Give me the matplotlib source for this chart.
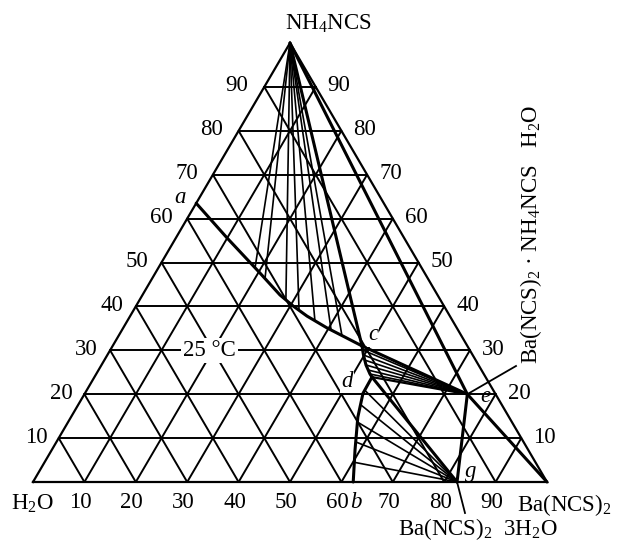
import numpy as np
import matplotlib
matplotlib.use("Agg")
import matplotlib.pyplot as plt

# ---------------- data (fractions: B = Ba(NCS)2, N = NH4NCS) ----------------
ticks = [10, 20, 30, 40, 50, 60, 70, 80, 90]

# solubility curve a-c (NH4NCS branch)
curve_ac_B = [0.000, 0.0995, 0.2036, 0.2675, 0.3055, 0.344, 0.3965, 0.442, 0.485]
curve_ac_N = [0.635, 0.556, 0.476, 0.426, 0.401, 0.378, 0.351, 0.330, 0.310]
# curve c-d (double salt branch)
curve_cd_B = [0.485, 0.4983, 0.5146, 0.5326, 0.540]
curve_cd_N = [0.310, 0.2893, 0.2665, 0.246, 0.239]
# curve d-b (trihydrate branch)
curve_db_B = [0.540, 0.541, 0.558, 0.590, 0.623]
curve_db_N = [0.239, 0.202, 0.148, 0.073, 0.000]

# special points
pt_top = (0.0, 1.0)        # NH4NCS
pt_ba = (1.0, 0.0)         # Ba(NCS)2
pt_c = (0.485, 0.310)
pt_d = (0.540, 0.239)
pt_e = (0.745, 0.200)      # Ba(NCS)2.NH4NCS.H2O
pt_g = (0.825, 0.000)      # Ba(NCS)2.3H2O

# tie-line liquid ends
tie_top_B = [0.188, 0.2196, 0.285, 0.321, 0.365, 0.407, 0.434]
tie_top_N = [0.488, 0.4636, 0.414, 0.393, 0.367, 0.346, 0.334]
tie_e_B = [0.4909, 0.4983, 0.506, 0.5146, 0.5243, 0.5326]
tie_e_N = [0.3007, 0.2893, 0.2779, 0.2665, 0.2551, 0.246]
tie_g_B = [0.541, 0.551, 0.564, 0.583, 0.602]
tie_g_N = [0.209, 0.175, 0.136, 0.091, 0.045]

# ---------------- helpers ----------------
H = np.sqrt(3) / 2


def tern(B, N):
    B = np.asarray(B, float)
    N = np.asarray(N, float)
    return B + N / 2, N * H


plt.rcParams["font.family"] = ["Liberation Serif", "DejaVu Serif"]
plt.rcParams["mathtext.fontset"] = "custom"
plt.rcParams["mathtext.rm"] = "Liberation Serif"
plt.rcParams["mathtext.it"] = "Liberation Serif:italic"

W, Hpx = 624, 543
fig = plt.figure(figsize=(W / 100, Hpx / 100), dpi=100)
ax = fig.add_axes([0, 0, 1, 1])
x0, base, wpx, hpx = 33, 482, 514, 439
ax.set_xlim(-x0 / wpx, (W - x0) / wpx)
ax.set_ylim(-(Hpx - base) / hpx * H, base / hpx * H)
ax.axis("off")

LW_GRID = 1.4
LW_THICK = 2.2
LW_TIE = 1.2
FS = 16.5
K = "black"


def seg(p, q, lw, z=2):
    x, y = tern([p[0], q[0]], [p[1], q[1]])
    ax.plot(x, y, color=K, lw=lw, solid_capstyle="round", zorder=z)


# triangle frame
fx, fy = tern([0, 1, 0, 0], [0, 0, 1, 0])
ax.plot(fx, fy, color=K, lw=LW_GRID + 0.2, zorder=2, solid_joinstyle="miter")

# grid
for t in ticks:
    f = t / 100
    seg((0, f), (1 - f, f), LW_GRID, 1)          # constant NH4NCS
    seg((f, 0), (f, 1 - f), LW_GRID, 1)          # constant Ba(NCS)2
    seg((1 - f, 0), (0, 1 - f), LW_GRID, 1)      # constant H2O

# tie lines
for b, n in zip(tie_top_B, tie_top_N):
    seg(pt_top, (b, n), LW_TIE)
for b, n in zip(tie_e_B, tie_e_N):
    seg(pt_e, (b, n), LW_TIE)
for b, n in zip(tie_g_B, tie_g_N):
    seg(pt_g, (b, n), LW_TIE)

# solubility curves
for cb, cn in [(curve_ac_B, curve_ac_N), (curve_cd_B, curve_cd_N), (curve_db_B, curve_db_N)]:
    x, y = tern(cb, cn)
    ax.plot(x, y, color=K, lw=LW_THICK, zorder=3, solid_capstyle="round",
            solid_joinstyle="round")

# three-phase triangles / compound joins
seg(pt_top, pt_c, LW_THICK, 3)
seg(pt_top, pt_e, LW_THICK, 3)
seg(pt_c, pt_e, LW_THICK, 3)
seg(pt_d, pt_e, LW_TIE + 0.4, 3)
seg(pt_d, pt_g, LW_THICK, 3)
seg(pt_e, pt_g, LW_THICK, 3)
seg(pt_e, pt_ba, LW_THICK, 3)

# ---------------- tick labels ----------------
pt2px = 0.72  # points per pixel at 100 dpi
for t in ticks:
    f = t / 100
    x, y = tern(0, f)
    gap = 10 + 7 * f
    ax.annotate(str(t), (x, y), xytext=(-gap * pt2px, 1 * pt2px), textcoords="offset points",
                ha="right", va="center", fontsize=FS)
    x, y = tern(1 - f, f)
    ax.annotate(str(t), (x, y), xytext=(12 * pt2px, 1 * pt2px), textcoords="offset points",
                ha="left", va="center", fontsize=FS)
    x, y = tern(f, 0)
    ax.annotate(str(t), (x, y), xytext=(-4 * pt2px, -21 * pt2px), textcoords="offset points",
                ha="center", va="center", fontsize=FS)


# point labels
def plabel(p, txt, dx, dy, box=False):
    x, y = tern(*p)
    kw = dict(xytext=(dx * pt2px, dy * pt2px), textcoords="offset points",
              ha="center", va="center", fontsize=FS, style="italic", zorder=5)
    if box:
        kw["bbox"] = dict(boxstyle="square,pad=0.05", fc="white", ec="none")
    ax.annotate(txt, (x, y), **kw)


plabel((curve_ac_B[0], curve_ac_N[0]), "a", -16, 6)
plabel((curve_db_B[-1], curve_db_N[-1]), "b", 3, -21)
plabel(pt_c, "c", 11, 11, box=True)
plabel(pt_d, "d", -25, -4, box=True)
plabel(pt_e, "e", 18, -2)
plabel(pt_g, "g", 14, 10)

# temperature label
ax.text(*tern(0.194, 0.30), "25 °C", ha="center", va="center", fontsize=FS, zorder=5,
        bbox=dict(boxstyle="square,pad=0.1", fc="white", ec="none"))


# vertex labels
def px(xp, yp):
    return (xp - x0) / wpx, (base - yp) / hpx * H


ax.text(*px(285, 24), "NH$_4$NCS", ha="left", va="center", fontsize=FS)
ax.text(*px(32, 504), "H$_2$O", ha="center", va="center", fontsize=FS)
ax.text(*px(517, 505), "Ba(NCS)$_2$", ha="left", va="center", fontsize=FS)
ax.text(*px(478, 529), "Ba(NCS)$_2$  3H$_2$O", ha="center", va="center", fontsize=FS)
ax.text(*px(531, 234), "Ba(NCS)$_2$ · NH$_4$NCS   H$_2$O", ha="center", va="center",
        rotation=90, fontsize=16.5)

# pointer lines
ex, ey = tern(*pt_e)
lx, ly = px(516, 366)
ax.plot([ex, lx], [ey, ly], color=K, lw=1.3, zorder=4)
gx, gy = tern(*pt_g)
hx, hy = px(465, 513)
ax.plot([gx, hx], [gy, hy], color=K, lw=1.3, zorder=4)

fig.savefig("out.png", dpi=100, facecolor="white")
